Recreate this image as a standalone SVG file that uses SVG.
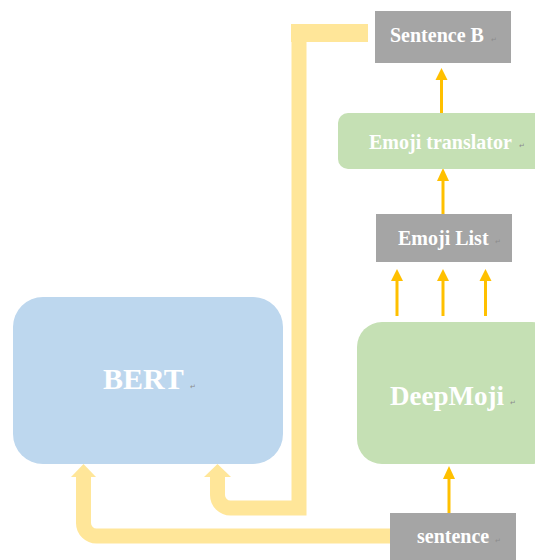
<svg xmlns="http://www.w3.org/2000/svg" width="535" height="560" viewBox="0 0 535 560">
<style>
.lbl{font-family:"Liberation Serif","Times New Roman",serif;font-weight:bold;fill:#ffffff}
.pm{font-family:"DejaVu Sans",sans-serif;font-size:7px;fill:#8c8c8c}
.gray{fill:#a5a5a5}
.flow{fill:none;stroke:#ffe699;stroke-width:14}
.ar{stroke:#ffc000;stroke-width:3;fill:none}
.ah{fill:#ffc000}
.yh{fill:#ffe699}
</style>
<rect width="535" height="560" fill="#ffffff"/>
<g id="connectors">
  <rect class="yh" x="291" y="24" width="77" height="18"/>
  <path class="flow" d="M299,30 V508 H231 A13,13 0 0 1 217.5,495 V476" style="stroke-width:15"/>
  <polygon class="yh" points="204,477 217.5,464 231,477"/>
  <path class="flow" d="M390,536 H97 A13,13 0 0 1 83.5,523 V476" style="stroke-width:15"/>
  <polygon class="yh" points="71,477 83.5,464 96,477"/>
  <line class="ar" x1="449" y1="513" x2="449" y2="478"/>
  <polygon class="ah" points="443,479 449,466 455,479"/>
  <line class="ar" x1="397" y1="316" x2="397" y2="280"/>
  <polygon class="ah" points="391,281 397,269 403,281"/>
  <line class="ar" x1="443" y1="316" x2="443" y2="280"/>
  <polygon class="ah" points="437,281 443,269 449,281"/>
  <line class="ar" x1="485.5" y1="316" x2="485.5" y2="280"/>
  <polygon class="ah" points="479.5,281 485.5,269 491.5,281"/>
  <line class="ar" x1="443" y1="214" x2="443" y2="180"/>
  <polygon class="ah" points="437,181 443,168 449,181"/>
  <line class="ar" x1="441.5" y1="114" x2="441.5" y2="79"/>
  <polygon class="ah" points="435.5,80 441.5,68 447.5,80"/>
</g>
<g id="sentenceB">
  <rect class="gray" x="375" y="11" width="136" height="52"/>
  <text class="lbl" x="390" y="42" font-size="20">Sentence B</text>
  <text class="pm" x="491" y="42">↵</text>
</g>
<g id="emojiTranslator">
  <rect x="338" y="113" width="210" height="56" rx="10" fill="#c5e0b4"/>
  <text class="lbl" x="369" y="149" font-size="20">Emoji translator</text>
  <text class="pm" x="519" y="148">↵</text>
</g>
<g id="emojiList">
  <rect class="gray" x="376" y="214" width="136" height="48"/>
  <text class="lbl" x="398" y="245" font-size="20">Emoji List</text>
  <text class="pm" x="495" y="244">↵</text>
</g>
<g id="bert">
  <rect x="13" y="297" width="270" height="167" rx="30" fill="#bdd7ee"/>
  <text class="lbl" x="103" y="389" font-size="30">BERT</text>
  <text class="pm" x="190" y="389">↵</text>
</g>
<g id="deepmoji">
  <rect x="357" y="322" width="200" height="142" rx="25" fill="#c5e0b4"/>
  <text class="lbl" x="390" y="405" font-size="27">DeepMoji</text>
  <text class="pm" x="510" y="405">↵</text>
</g>
<g id="sentence">
  <rect class="gray" x="390" y="513" width="126" height="50"/>
  <text class="lbl" x="417" y="543" font-size="20">sentence</text>
  <text class="pm" x="495" y="543">↵</text>
</g>
</svg>
